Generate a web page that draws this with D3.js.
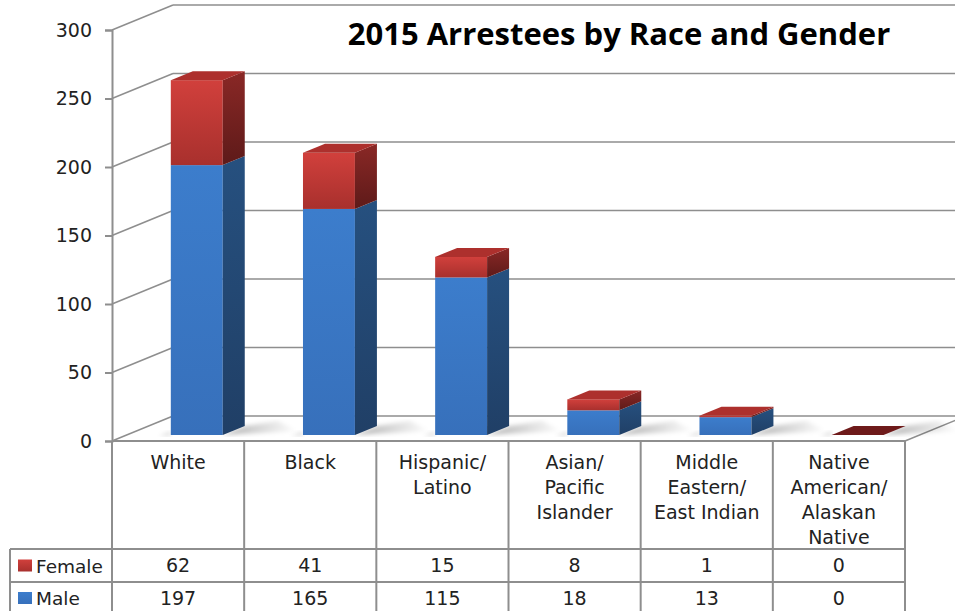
<!DOCTYPE html>
<html><head><meta charset="utf-8">
<script src="https://cdn.jsdelivr.net/npm/d3@7/dist/d3.min.js"></script>
<style>body{margin:0;background:#fff}svg{display:block}</style>
</head><body>
<svg id="c" width="955" height="611"></svg>
<script>
const categories = [["White"],["Black"],["Hispanic/","Latino"],["Asian/","Pacific","Islander"],["Middle","Eastern/","East Indian"],["Native","American/","Alaskan","Native"]];
const female = [62, 41, 15, 8, 1, 0];
const male = [197, 165, 115, 18, 13, 0];
const yTicks = [0, 50, 100, 150, 200, 250, 300];
const seriesNames = ["Female", "Male"];
const title = "2015 Arrestees by Race and Gender";

const svg = d3.select("#c");
const font = "'DejaVu Sans', sans-serif";
const gridColor = "#8e8e8e";
const DX = 61, DY = -25;          // wall depth
const BDX = 22, BDY = -9;         // bar depth
const barLift = -6;               // bar front plane offset

const y = d3.scaleLinear().domain([0, 300]).range([441, 30]);
const x = d3.scaleBand().domain(d3.range(categories.length)).range([112, 905]).padding(0);

const defs = svg.append("defs");
function grad(id, stops, x2, y2) {
  const g = defs.append("linearGradient").attr("id", id).attr("x1", 0).attr("y1", 0).attr("x2", x2).attr("y2", y2);
  stops.forEach(s => g.append("stop").attr("offset", s[0]).attr("stop-color", s[1]));
}
grad("redFront", [[0, "#d1403c"], [1, "#a8302d"]], 0, 1);
grad("redSide", [[0, "#8a2826"], [1, "#5e1a19"]], 0, 1);
grad("blueFront", [[0, "#3c7dcc"], [1, "#3770bb"]], 0, 1);
grad("blueSide", [[0, "#26507f"], [1, "#203f66"]], 0, 1);
grad("shadow", [[0, "rgba(0,0,0,0.3)"], [1, "rgba(0,0,0,0)"]], 1, 0);
defs.append("filter").attr("id", "blur").append("feGaussianBlur").attr("stdDeviation", 2);

// back wall gridlines + side wall diagonals
const grid = svg.append("g");
yTicks.forEach(t => {
  const yy = y(t);
  grid.append("line").attr("x1", 112).attr("y1", yy).attr("x2", 112 + DX).attr("y2", yy + DY)
    .attr("stroke", gridColor).attr("stroke-width", 1.5);
  grid.append("line").attr("x1", 112 + DX).attr("y1", yy + DY).attr("x2", 955).attr("y2", yy + DY)
    .attr("stroke", gridColor).attr("stroke-width", 1.5);
});
// floor right edge
grid.append("line").attr("x1", 905).attr("y1", y(0)).attr("x2", 905 + DX).attr("y2", y(0) + DY)
  .attr("stroke", gridColor).attr("stroke-width", 1.5);

// y axis
const axis = d3.axisLeft(y).tickValues(yTicks).tickSize(7).tickPadding(13);
const ag = svg.append("g").attr("transform", "translate(112,0)").call(axis);
ag.select(".domain").attr("stroke", gridColor).attr("stroke-width", 2);
ag.selectAll(".tick line").attr("stroke", gridColor).attr("stroke-width", 2);
ag.selectAll(".tick text").attr("font-family", font).attr("font-size", 19).attr("fill", "#222");

// bars
const bw = x.bandwidth() * 0.393, boff = x.bandwidth() * 0.445;
const bars = svg.append("g");
categories.forEach((c, i) => {
  const x0 = x(i) + boff, x1 = x0 + bw;
  const base = y(0) + barLift;
  // shadow
  bars.append("path").attr("d", `M${x1},${base} L${x1 + 75},${base - 4} L${x1 + 55},${base - 14} L${x1 + BDX},${base + BDY} Z`)
    .attr("fill", "url(#shadow)").attr("filter", "url(#blur)");
  bars.append("path").attr("d", `M${x0 - 12},${base + 1} L${x0},${base - 4} L${x0},${base+1} Z`)
    .attr("fill", "rgba(0,0,0,0.12)").attr("filter", "url(#blur)");
  const segs = [
    { v0: 0, v1: male[i], front: "url(#blueFront)", side: "url(#blueSide)", top: "#3a6fb5" },
    { v0: male[i], v1: male[i] + female[i], front: "url(#redFront)", side: "url(#redSide)", top: "#ad302d" }
  ];
  segs.forEach((s, k) => {
    const yb = y(s.v0) + barLift, yt = y(s.v1) + barLift;
    if (yb - yt > 0) {
      bars.append("rect").attr("x", x0).attr("y", yt).attr("width", bw).attr("height", yb - yt).attr("fill", s.front);
      bars.append("path").attr("d", `M${x1},${yt} L${x1 + BDX},${yt + BDY} L${x1 + BDX},${yb + BDY} L${x1},${yb} Z`).attr("fill", s.side);
    }
    if (k === 1) {
      const topCol = (male[i] + female[i]) === 0 ? "#6e1a1a" : s.top;
      bars.append("path").attr("d", `M${x0},${yt} L${x1},${yt} L${x1 + BDX},${yt + BDY} L${x0 + BDX},${yt + BDY} Z`).attr("fill", topCol);
    }
  });
});

// title
svg.append("text").attr("x", 619).attr("y", 45).attr("text-anchor", "middle")
  .attr("font-family", "'Open Sans', sans-serif").attr("font-weight", "bold").attr("font-size", 31)
  .attr("fill", "#000").text(title);

// data table
const tbl = svg.append("g");
const tline = (x1, y1, x2, y2) => tbl.append("line").attr("x1", x1).attr("y1", y1).attr("x2", x2).attr("y2", y2)
  .attr("stroke", gridColor).attr("stroke-width", 2);
tline(112, 441, 905, 441);
tline(10, 549, 905, 549);
tline(10, 582, 905, 582);
tline(10, 549, 10, 611);
d3.range(categories.length + 1).forEach(i => {
  const xx = i < categories.length ? x(i) : 905;
  tline(xx, 441, xx, 611);
});
categories.forEach((lines, i) => {
  const cx = x(i) + x.bandwidth() / 2;
  const t = tbl.append("text").attr("x", cx).attr("y", 469).attr("text-anchor", "middle")
    .attr("font-family", font).attr("font-size", 19).attr("fill", "#222");
  lines.forEach((l, j) => t.append("tspan").attr("x", cx).attr("dy", j === 0 ? 0 : 25).text(l));
  tbl.append("text").attr("x", cx).attr("y", 572).attr("text-anchor", "middle")
    .attr("font-family", font).attr("font-size", 19).attr("fill", "#222").text(female[i]);
  tbl.append("text").attr("x", cx).attr("y", 605).attr("text-anchor", "middle")
    .attr("font-family", font).attr("font-size", 19).attr("fill", "#222").text(male[i]);
});
// legend keys
const keyFill = ["url(#redFront)", "url(#blueFront)"];
seriesNames.forEach((n, k) => {
  const cy = k === 0 ? 565.5 : 598;
  tbl.append("rect").attr("x", 18).attr("y", cy - 6).attr("width", 14).attr("height", 12).attr("fill", keyFill[k]);
  tbl.append("text").attr("x", 36).attr("y", cy + 7).attr("font-family", font).attr("font-size", 18.5)
    .attr("fill", "#222").text(n);
});
</script>
</body></html>
